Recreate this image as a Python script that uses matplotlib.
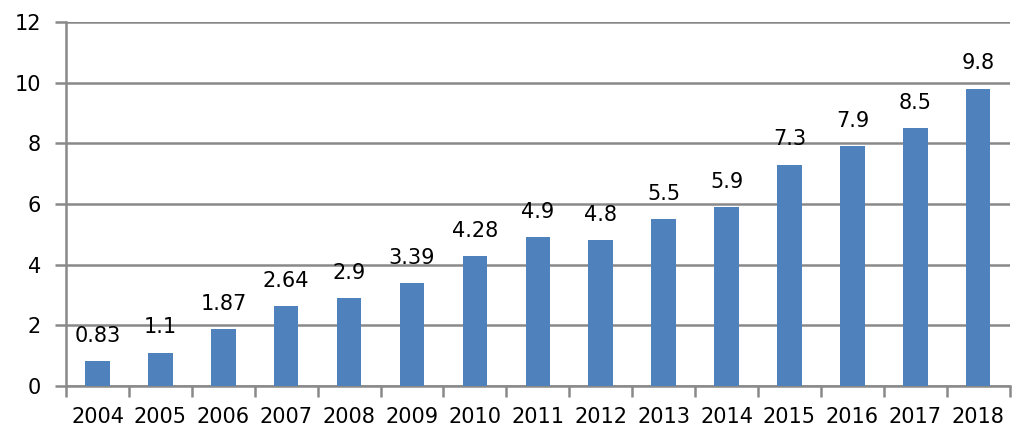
import numpy as np
import matplotlib.pyplot as plt
from matplotlib.ticker import FixedLocator

plt.rcParams['font.family'] = ['DejaVu Sans']

years = ['2004', '2005', '2006', '2007', '2008', '2009', '2010', '2011',
         '2012', '2013', '2014', '2015', '2016', '2017', '2018']
values = [0.83, 1.1, 1.87, 2.64, 2.9, 3.39, 4.28, 4.9,
          4.8, 5.5, 5.9, 7.3, 7.9, 8.5, 9.8]
labels = ['0.83', '1.1', '1.87', '2.64', '2.9', '3.39', '4.28', '4.9',
          '4.8', '5.5', '5.9', '7.3', '7.9', '8.5', '9.8']


def main():
   fig = plt.figure(figsize=(10.24, 4.44), dpi=100)
   ax = fig.add_axes([0.0645, 0.1306, 0.9215, 0.82])

   x = np.arange(len(years))
   bars = ax.bar(x, values, width=0.39, color='#4f81bd', zorder=3)

   # value labels above bars
   for b, lab in zip(bars, labels):
      ax.annotate(lab, (b.get_x() + b.get_width() / 2, b.get_height()),
                  xytext=(0, 11), textcoords='offset points',
                  ha='center', va='bottom', fontsize=15, color='black')

   ax.set_xlim(-0.5, len(years) - 0.5)
   ax.set_ylim(0, 12)
   ax.set_yticks(np.arange(0, 13, 2))
   ax.set_xticks(x)
   ax.set_xticklabels(years)
   ax.xaxis.set_minor_locator(FixedLocator(np.arange(-0.5, len(years), 1)))

   ax.grid(axis='y', color='#898989', linewidth=1.8, zorder=0)
   for s in ['top', 'right']:
      ax.spines[s].set_visible(False)
   for s in ['left', 'bottom']:
      ax.spines[s].set_color('#898989')
      ax.spines[s].set_linewidth(1.8)

   ax.tick_params(axis='y', length=8, width=1.8, color='#898989',
                  labelsize=15, pad=10)
   ax.tick_params(axis='x', which='major', length=0, labelsize=15, pad=15)
   ax.tick_params(axis='x', which='minor', length=8, width=1.8,
                  color='#898989')

   fig.savefig('out.png', dpi=100)


if __name__ == '__main__': main()
